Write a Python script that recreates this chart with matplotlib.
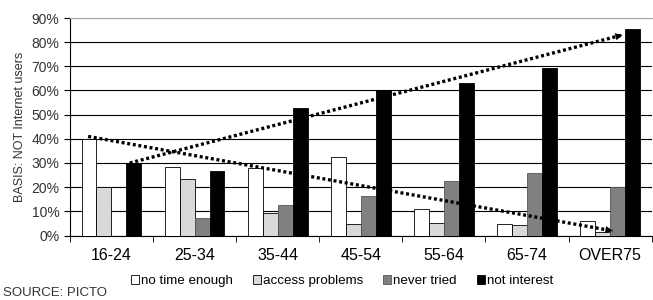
import matplotlib.pyplot as plt
import numpy as np

plt.rcParams['font.family'] = ['Liberation Sans', 'DejaVu Sans']

groups = ['16-24', '25-34', '35-44', '45-54', '55-64', '65-74', 'OVER75']
series = ['no time enough', 'access problems', 'never tried', 'not interest']
no_time = [40, 28.5, 28, 32.5, 11, 4.7, 6]
access = [20, 23.5, 9.4, 4.6, 5.1, 4.2, 1.5]
never_tried = [0, 7.1, 12.6, 16.5, 22.5, 26, 20]
not_interest = [30, 26.7, 52.8, 60.3, 63.3, 69.2, 85.5]
colors = ['white', '#d9d9d9', '#808080', 'black']
edges = ['black', 'black', '#555555', 'black']

# trend arrows: (x0, y0) -> (x1, y1) in data units
trend_down = [(-0.28, 41), (6.03, 1.9)]
trend_up = [(0.22, 30), (6.15, 83)]

fig = plt.figure(figsize=(6.53, 3.0), dpi=100)
ax = fig.add_axes([0.107, 0.215, 0.891, 0.725])

x = np.arange(len(groups))
w = 0.18
for i, vals in enumerate([no_time, access, never_tried, not_interest]):
    ax.bar(x + (i - 1.5) * w, vals, w, color=colors[i], edgecolor=edges[i],
           linewidth=0.6, label=series[i], zorder=3)

for (p0, p1) in [trend_down, trend_up]:
    ax.plot([p0[0], p1[0]], [p0[1], p1[1]], color='black', lw=2.4,
            linestyle=(0, (0.9, 0.8)), dash_capstyle='butt', zorder=5)
    # solid head at the end
    dx, dy = p1[0] - p0[0], p1[1] - p0[1]
    ax.annotate('', xy=p1, xytext=(p1[0] - dx * 0.02, p1[1] - dy * 0.02),
                arrowprops=dict(arrowstyle='-|>', lw=0, color='black',
                                mutation_scale=13, shrinkA=0, shrinkB=0),
                zorder=6)

ax.set_xlim(-0.5, len(groups) - 0.5)
ax.set_ylim(0, 90)
ax.set_yticks(range(0, 91, 10))
ax.set_yticklabels([f'{v}%' for v in range(0, 91, 10)], fontsize=10, color='#333333')
ax.yaxis.grid(True, color='black', linewidth=0.8, zorder=0)
ax.set_xticks(x)
ax.set_xticklabels(groups, fontsize=11.5)
ax.set_xticks(np.arange(-0.5, len(groups), 1), minor=True)
ax.tick_params(axis='x', which='major', length=0, pad=9)
ax.tick_params(axis='x', which='minor', length=4, direction='out')
ax.tick_params(axis='y', length=4)
ax.spines['top'].set_color('#aaaaaa')
ax.spines['right'].set_visible(False)
ax.set_ylabel('BASIS: NOT Internet users', fontsize=9, color='#333333', labelpad=4)

fig.legend(loc='center', bbox_to_anchor=(0.524, 0.063), ncol=4, frameon=False,
           fontsize=9.6, handlelength=0.6, handleheight=0.6, handletextpad=0.15,
           columnspacing=1.5)
fig.text(0.004, 0.005, 'SOURCE: PICTO', fontsize=9.5, color='#333333', va='bottom')

fig.savefig('out.png', dpi=100)
